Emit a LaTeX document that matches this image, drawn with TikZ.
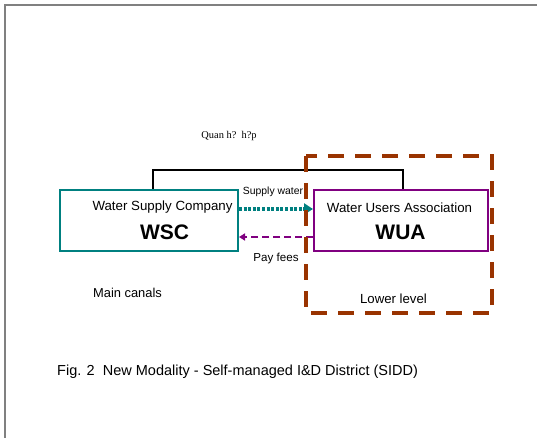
\documentclass[tikz,border=0pt]{standalone}
\usepackage{fontspec}
\setmainfont{Liberation Sans}
\newfontfamily\timesfont{Liberation Serif}
\usetikzlibrary{arrows.meta}

\definecolor{wscteal}{RGB}{0,128,128}
\definecolor{wuapurple}{RGB}{128,0,128}
\definecolor{zonebrown}{RGB}{153,51,0}
\definecolor{framegray}{RGB}{128,128,128}

\tikzset{
  orgbox/.style={draw, line width=2pt, fill=white, minimum width=178pt, minimum height=61pt, inner sep=0pt},
  lbl/.style={inner sep=0pt, anchor=base},
  flowsupply/.style={wscteal, line width=4pt, dash pattern=on 3pt off 1.6pt,
     -{Triangle[length=9pt,width=11pt]}},
  flowfees/.style={wuapurple, line width=2pt, dash pattern=on 7pt off 4pt,
     -{Triangle[length=6pt,width=7pt]}},
}

\begin{document}
\begin{tikzpicture}[x=1pt,y=-1pt]
\useasboundingbox (0,0) rectangle (537,438);
\clip (0,0) rectangle (537,438);

% page frame
\draw[framegray, line width=1.6pt] (5,445) -- (5,5) -- (545,5);

% organisations
\node[orgbox, draw=wscteal] (wsc) at (149,220.5) {};
\node[orgbox, draw=wuapurple, minimum width=174pt] (wua) at (401,220.5) {};

\node[lbl, font=\fontsize{13.3}{15}\selectfont] (wscname) at (162.5,211) {Water Supply Company};
\node[lbl, font=\fontsize{21}{24}\bfseries] (wscabbr) at (164.5,239) {WSC};
\node[lbl, font=\fontsize{13.3}{15}\selectfont] (wuaname) at (399.5,212) {Water Users Association};
\node[lbl, font=\fontsize{21}{24}\bfseries] (wuaabbr) at (400.5,239) {WUA};

% relation bracket
\coordinate (bridge) at (278,170);
\draw[black, line width=1.2pt] ([xshift=4pt]wsc.north) |- (bridge) -| ([xshift=2pt]wua.north);
\node[lbl, font=\timesfont\fontsize{10.4}{12}\selectfont] (rel) at (229,139) {Quan h?\ \ h?p};

% flows
\draw[flowsupply] ([yshift=11.5pt]wsc.east) -- ([yshift=11.5pt]wua.west);
\draw[flowfees] ([yshift=-16.5pt]wua.west) -- ([yshift=-16.5pt]wsc.east);
\node[lbl, font=\fontsize{10.4}{12}\selectfont] (supply) at (273,194) {Supply water};
\node[lbl, font=\fontsize{11.6}{13}\selectfont] (fees) at (276,261) {Pay fees};

% lower level zone
\draw[zonebrown, line width=4pt, dash pattern=on 16pt off 11pt] (306,156) rectangle (492,313);

\node[lbl, font=\fontsize{12.9}{15}\selectfont] (main) at (127.5,297) {Main canals};
\node[lbl, font=\fontsize{13.2}{15}\selectfont] (lower) at (393.5,303) {Lower level};

% caption
\node[lbl, anchor=base west, font=\fontsize{14.5}{17}\selectfont] (caption) at (57,375)
  {Fig. 2\ \ New Modality - Self-managed I\&D District (SIDD)};
\end{tikzpicture}
\end{document}
